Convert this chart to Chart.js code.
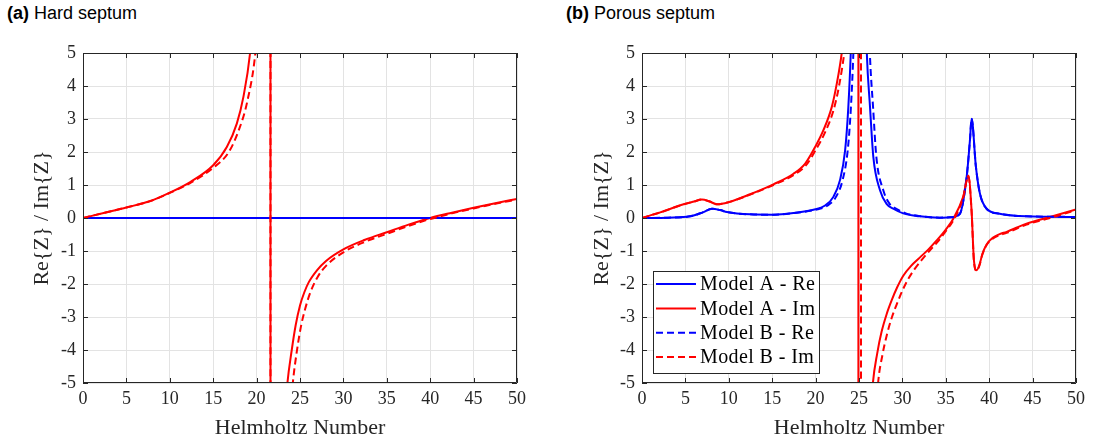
<!DOCTYPE html>
<html>
<head>
<meta charset="utf-8">
<script src="https://cdn.jsdelivr.net/npm/chart.js@4.4.1/dist/chart.umd.min.js"></script>
<style>
  body { margin: 0; background: #fff; width: 1099px; height: 442px; overflow: hidden; position: relative; }
  canvas { position: absolute; top: 0; }
  .panelTitle { position: absolute; top: 2px; font: 18px "Liberation Sans", Arial, sans-serif; line-height: 22px; color: #000; white-space: nowrap; }
</style>
</head>
<body>
<div class="panelTitle" style="left:7px"><b>(a)</b> Hard septum</div>
<div class="panelTitle" style="left:566px"><b>(b)</b> Porous septum</div>
<canvas id="hardChart" width="550" height="442" style="left:0"></canvas>
<canvas id="porousChart" width="549" height="442" style="left:550px"></canvas>
<script>
// tick labels
const xTickValues = [0, 5, 10, 15, 20, 25, 30, 35, 40, 45, 50];
const yTickValues = [-5, -4, -3, -2, -1, 0, 1, 2, 3, 4, 5];
const seriesLabels = ['Model A - Re', 'Model A - Im', 'Model B - Re', 'Model B - Im'];

// (a) hard septum
const hardReAX = [0, 50];
const hardReAY = [0, 0];
const hardImAX = [0, 2.5, 5, 7.75, 10, 12.35, 15, 16.57, 17.72, 18.48, 19.25, 19.8, 20.5, 21.6, 21.6, 22.6, 23.1, 23.55, 24.05, 24.5, 25, 25.5, 26, 27, 28, 30, 32.5, 35, 37.5, 40, 42.5, 45, 47.5, 50];
const hardImAY = [0, 0.16, 0.32, 0.515, 0.77, 1.09, 1.6, 2.15, 2.86, 3.67, 5.0, 6.8, 11, 60, -60, -10, -6.6, -5, -4.0, -3.25, -2.65, -2.25, -1.95, -1.57, -1.3, -0.95, -0.66, -0.43, -0.2, 0, 0.16, 0.31, 0.45, 0.58];
const hardReBX = [0, 50];
const hardReBY = [0, 0];
const hardImBX = [0, 2.5, 5, 7.75, 10, 12.35, 15, 16.8, 18.0, 18.9, 19.86, 20.4, 21.0, 21.6, 21.6, 23.0, 23.7, 24.17, 24.63, 25.1, 25.6, 26.2, 27, 28, 30, 32.5, 35, 37.5, 40, 42.5, 45, 47.5, 50];
const hardImBY = [0, 0.16, 0.32, 0.51, 0.76, 1.06, 1.52, 2.0, 2.7, 3.5, 5.0, 6.8, 10, 40, -40, -9, -6.5, -5, -4.05, -3.3, -2.75, -2.25, -1.8, -1.45, -1.04, -0.72, -0.48, -0.24, -0.03, 0.14, 0.29, 0.43, 0.56];

// (b) porous septum
const porousReAX = [0, 3, 5.56, 7, 8.05, 9, 9.78, 12.46, 15.1, 17.45, 19.75, 21.1, 22.05, 22.8, 23.4, 23.77, 24.05, 24.5, 25, 25.5, 25.9, 26.27, 26.65, 27.42, 28.2, 28.95, 30.1, 32, 34.3, 35.5, 36.6, 37.4, 37.78, 37.97, 38.47, 38.93, 39.7, 41.2, 44.3, 47, 50];
const porousReAY = [0, 0.01, 0.05, 0.17, 0.28, 0.24, 0.18, 0.11, 0.1, 0.15, 0.25, 0.38, 0.64, 1.14, 2.05, 3.36, 5, 9, 12, 9, 5, 3.36, 1.85, 0.84, 0.42, 0.28, 0.14, 0.05, 0.01, 0.02, 0.12, 1.24, 2.35, 3.01, 1.55, 0.74, 0.28, 0.13, 0.05, 0.04, 0.03];
const porousImAX = [0, 2.1, 4.79, 6.0, 6.9, 7.8, 8.63, 9.97, 12.46, 15.14, 17.45, 18.8, 19.94, 20.9, 21.86, 22.44, 23.01, 23.6, 24.3, 24.93, 24.93, 25.5, 26.1, 26.6, 27.1, 27.6, 28.2, 28.77, 29.4, 30.1, 31, 32, 33, 33.95, 35, 35.86, 37.0, 37.6, 37.97, 38.24, 38.55, 38.9, 39.2, 39.7, 40.4, 41.2, 42.0, 44.3, 47.0, 50];
const porousImAY = [0, 0.17, 0.415, 0.5, 0.56, 0.5, 0.415, 0.48, 0.72, 1.02, 1.34, 1.65, 2.15, 2.66, 3.36, 4.07, 5, 6.5, 10, 40, -40, -12, -7, -5, -4.1, -3.45, -2.9, -2.49, -2.1, -1.75, -1.45, -1.2, -0.95, -0.68, -0.35, -0.02, 0.64, 1.29, 0.23, -1.28, -1.58, -1.4, -1.1, -0.8, -0.6, -0.49, -0.42, -0.17, 0.03, 0.26];
const porousReBX = [0, 3, 5.56, 7, 8.05, 9, 9.78, 12.46, 15.1, 17.45, 20.0, 21.4, 22.35, 23.1, 23.7, 24.07, 24.35, 24.8, 25.3, 25.8, 26.25, 26.62, 27.0, 27.8, 28.55, 29.3, 30.4, 32.2, 34.3, 35.5, 36.6, 37.4, 37.78, 37.97, 38.47, 38.93, 39.7, 41.2, 44.3, 47, 50];
const porousReBY = [0, 0.01, 0.05, 0.17, 0.28, 0.24, 0.18, 0.11, 0.1, 0.15, 0.25, 0.38, 0.64, 1.14, 2.05, 3.36, 5, 9, 12, 9, 5, 3.36, 1.85, 0.84, 0.42, 0.28, 0.14, 0.05, 0.01, 0.02, 0.12, 1.24, 2.35, 3.01, 1.55, 0.74, 0.28, 0.13, 0.05, 0.04, 0.03];
const porousImBX = [0, 2.1, 4.79, 6.0, 6.9, 7.8, 8.63, 9.97, 12.46, 15.14, 17.45, 18.9, 20.1, 21.1, 22.1, 22.7, 23.3, 23.9, 24.6, 25.23, 25.23, 26.0, 26.7, 27.2, 27.7, 28.2, 28.8, 29.4, 30.0, 30.6, 31.4, 32.2, 33.1, 34.0, 35.0, 35.9, 37.0, 37.6, 37.97, 38.24, 38.55, 38.9, 39.2, 39.7, 40.4, 41.2, 42.0, 44.3, 47.0, 50];
const porousImBY = [0, 0.17, 0.415, 0.5, 0.56, 0.5, 0.415, 0.48, 0.71, 1.0, 1.3, 1.6, 2.1, 2.6, 3.3, 4.0, 5, 6.5, 10, 40, -40, -12, -7, -5, -4.15, -3.55, -3.0, -2.58, -2.2, -1.88, -1.55, -1.28, -1.0, -0.74, -0.4, -0.06, 0.62, 1.27, 0.2, -1.3, -1.6, -1.42, -1.12, -0.82, -0.63, -0.52, -0.45, -0.2, 0.0, 0.24];

const textColor = '#262626';
const gridColor = '#e3e3e3';
const serif = '"Liberation Serif", "Times New Roman", serif';

function zip(xs, ys) {
    return xs.map((x, i) => ({ x: x, y: ys[i] }));
}

function makeDatasets(series) {
    const colors = ['#0000ff', '#ff0000', '#0000ff', '#ff0000'];
    const dashes = [[], [], [7, 4], [7, 4]];
    return series.map((pts, i) => ({
        label: seriesLabels[i],
        data: pts,
        borderColor: colors[i],
        borderDash: dashes[i],
        borderWidth: 2,
        pointRadius: 0,
        fill: false,
        clip: 0,
        cubicInterpolationMode: 'monotone',
        order: 3 - i
    }));
}

// box round the plot with inward tick marks
const framePlugin = {
    id: 'frame',
    afterDatasetsDraw(chart) {
        const { ctx, chartArea: a, scales: { x, y } } = chart;
        ctx.save();
        ctx.strokeStyle = textColor;
        ctx.lineWidth = 1;
        ctx.setLineDash([]);
        ctx.beginPath();
        x.ticks.forEach(t => {
            const px = Math.round(x.getPixelForValue(t.value)) + 0.5;
            ctx.moveTo(px, a.top); ctx.lineTo(px, a.top + 5);
            ctx.moveTo(px, a.bottom); ctx.lineTo(px, a.bottom - 5);
        });
        y.ticks.forEach(t => {
            const py = Math.round(y.getPixelForValue(t.value)) + 0.5;
            ctx.moveTo(a.left, py); ctx.lineTo(a.left + 5, py);
            ctx.moveTo(a.right, py); ctx.lineTo(a.right - 5, py);
        });
        ctx.rect(a.left + 0.5, a.top + 0.5, a.right - a.left - 1, a.bottom - a.top - 1);
        ctx.stroke();
        ctx.restore();
    }
};

// legend box inside the lower left of the plot
const boxLegendPlugin = {
    id: 'boxLegend',
    afterDraw(chart, args, opts) {
        if (!opts.show) return;
        const { ctx, chartArea: a } = chart;
        const sets = chart.data.datasets;
        ctx.save();
        ctx.font = '20px ' + serif;
        ctx.letterSpacing = '0.4px';
        const textW = Math.max(...sets.map(d => ctx.measureText(d.label).width));
        const left = a.left + 11, bottom = a.bottom - 10, rowH = 24.3;
        const height = rowH * sets.length + 5;
        const top = bottom - height;
        const width = 47 + textW + 4;
        ctx.fillStyle = '#fff';
        ctx.fillRect(left, top, width, height);
        ctx.strokeStyle = textColor;
        ctx.lineWidth = 1;
        ctx.strokeRect(Math.round(left) + 0.5, Math.round(top) + 0.5, Math.round(width), Math.round(height));
        sets.forEach((d, i) => {
            const cy = top + 13.3 + i * rowH;
            ctx.beginPath();
            ctx.strokeStyle = d.borderColor;
            ctx.lineWidth = 2;
            ctx.setLineDash(d.borderDash);
            ctx.moveTo(left + 3, cy); ctx.lineTo(left + 43, cy);
            ctx.stroke();
            ctx.setLineDash([]);
            ctx.fillStyle = '#000';
            ctx.textBaseline = 'middle';
            ctx.textAlign = 'left';
            ctx.fillText(d.label, left + 47, cy + 1);
        });
        ctx.restore();
    }
};

function createPanel(canvasId, series, yAxisWidth, rightPad, yTitlePad, showLegend) {
    const ctx = document.getElementById(canvasId).getContext('2d');
    return new Chart(ctx, {
        type: 'line',
        data: { datasets: makeDatasets(series) },
        options: {
            responsive: false,
            animation: false,
            devicePixelRatio: 1,
            layout: { padding: { left: 0, right: rightPad, top: 53, bottom: 0 } },
            plugins: {
                legend: { display: false },
                tooltip: { enabled: false },
                boxLegend: { show: showLegend }
            },
            scales: {
                x: {
                    type: 'linear',
                    min: 0,
                    max: 50,
                    afterBuildTicks: s => { s.ticks = xTickValues.map(v => ({ value: v })); },
                    afterFit: s => { s.height = 59; },
                    ticks: { color: textColor, padding: 5, maxRotation: 0, font: { family: serif, size: 18 } },
                    grid: { color: gridColor, drawTicks: false },
                    border: { display: false },
                    title: {
                        display: true,
                        text: 'Helmholtz Number',
                        color: textColor,
                        padding: { top: 0, bottom: 1 },
                        font: { family: serif, size: 22 }
                    }
                },
                y: {
                    type: 'linear',
                    min: -5,
                    max: 5,
                    afterBuildTicks: s => { s.ticks = yTickValues.map(v => ({ value: v })); },
                    afterFit: s => { s.width = yAxisWidth; },
                    ticks: { color: textColor, padding: 7, font: { family: serif, size: 18 } },
                    grid: { color: gridColor, drawTicks: false },
                    border: { display: false },
                    title: {
                        display: true,
                        text: 'Re{Z} / Im{Z}',
                        color: textColor,
                        padding: { top: yTitlePad, bottom: 0 },
                        font: { family: serif, size: 22 }
                    }
                }
            }
        },
        plugins: [framePlugin, boxLegendPlugin]
    });
}

const hardChart = createPanel('hardChart', [
    zip(hardReAX, hardReAY), zip(hardImAX, hardImAY),
    zip(hardReBX, hardReBY), zip(hardImBX, hardImBY)
], 83, 33, 29.5, false);

const porousChart = createPanel('porousChart', [
    zip(porousReAX, porousReAY), zip(porousImAX, porousImAY),
    zip(porousReBX, porousReBY), zip(porousImBX, porousImBY)
], 92, 23, 39.5, true);
</script>
</body>
</html>
